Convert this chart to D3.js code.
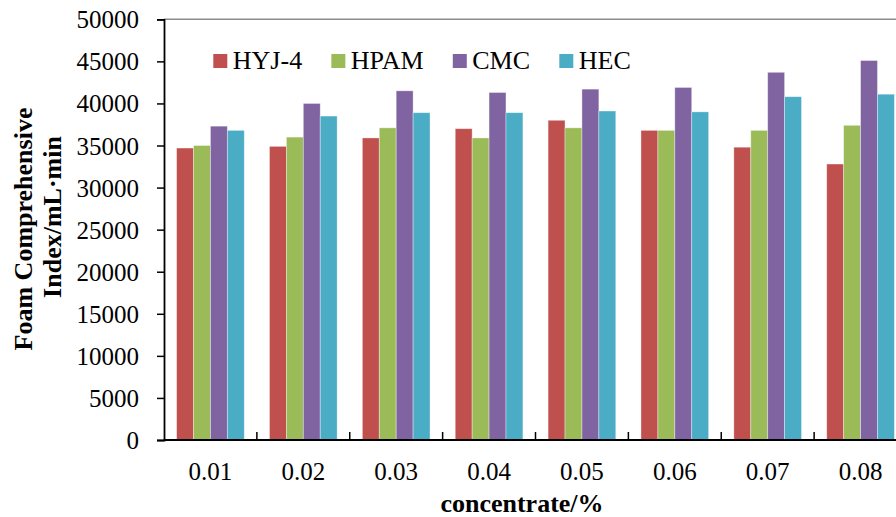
<!DOCTYPE html>
<html><head><meta charset="utf-8">
<script src="https://cdn.jsdelivr.net/npm/d3@7/dist/d3.min.js"></script>
<style>body{margin:0;background:#fff;}svg{display:block;}</style>
</head><body>
<svg id="c" width="896" height="517"></svg>
<script>
const categories = ["0.01","0.02","0.03","0.04","0.05","0.06","0.07","0.08"];
const seriesNames = ["HYJ-4","HPAM","CMC","HEC"];
const hyj4 = [34700,34900,35900,37000,38000,36800,34800,32800];
const hpam = [35000,36000,37100,35900,37100,36800,36800,37400];
const cmc  = [37300,40000,41500,41300,41700,41900,43700,45100];
const hec  = [36800,38500,38900,38900,39100,39000,40800,41100];
const yTicks = [0,5000,10000,15000,20000,25000,30000,35000,40000,45000,50000];
const colors = ["#C0504D","#9BBB59","#8064A2","#4BACC6"];
const values = [hyj4,hpam,cmc,hec];

const svg = d3.select("#c");
const L=164, R=907, T=19.3, B=440;
const font = "'Liberation Serif','Times New Roman',serif";

const x = d3.scaleBand().domain(categories).range([L,R]);
const xs = d3.scaleBand().domain(seriesNames).range([12.6, x.bandwidth()-12.6]);
const y = d3.scaleLinear().domain([0,50000]).range([B,T]);

// top border
svg.append("line").attr("x1",L).attr("x2",896).attr("y1",T).attr("y2",T)
  .attr("stroke","#8c8c8c").attr("stroke-width",1.5);

// bars
const g = svg.append("g");
seriesNames.forEach((s,i)=>{
  g.selectAll(null).data(categories).enter().append("rect")
    .attr("x",c=>x(c)+xs(s))
    .attr("width",xs.bandwidth())
    .attr("y",(c,j)=>y(values[i][j]))
    .attr("height",(c,j)=>B-y(values[i][j]))
    .attr("fill",colors[i])
    .attr("stroke","rgba(255,255,255,0.45)")
    .attr("stroke-width",0.8);
});

// y axis
const ya = svg.append("g").attr("transform",`translate(${L},0)`)
  .call(d3.axisLeft(y).tickValues(yTicks).tickSize(7).tickPadding(18).tickFormat(d3.format("d")));
ya.select(".domain").attr("stroke","#000").attr("stroke-width",1.8);
ya.selectAll(".tick line").attr("stroke","#000").attr("stroke-width",1.5);
ya.selectAll("text").attr("font-family",font).attr("font-size",25).attr("fill","#000").attr("dy","0.34em");

// x axis
const xa = svg.append("g").attr("transform",`translate(0,${B})`);
xa.append("line").attr("x1",L).attr("x2",R).attr("y1",0).attr("y2",0).attr("stroke","#000").attr("stroke-width",2.2);
xa.selectAll(".xt").data(categories.slice(1)).enter().append("line")
  .attr("x1",c=>x(c)).attr("x2",c=>x(c)).attr("y1",0).attr("y2",-8)
  .attr("stroke","#000").attr("stroke-width",1.5);
xa.selectAll(".xl").data(categories).enter().append("text")
  .attr("x",c=>x(c)+x.bandwidth()/2).attr("y",40)
  .attr("text-anchor","middle").attr("font-family",font).attr("font-size",25).text(c=>c);

// axis titles
svg.append("text").attr("x",522).attr("y",512).attr("text-anchor","middle")
  .attr("font-family",font).attr("font-size",26).attr("font-weight","bold").text("concentrate/%");
svg.append("text").attr("transform","translate(32,229) rotate(-90)").attr("text-anchor","middle")
  .attr("font-family",font).attr("font-size",26).attr("font-weight","bold").text("Foam Comprehensive");
svg.append("text").attr("transform","translate(61,217) rotate(-90)").attr("text-anchor","middle")
  .attr("font-family",font).attr("font-size",26).attr("font-weight","bold").text("Index/mL·min");

// legend
const lg = svg.append("g");
let lx = 213.3;
seriesNames.forEach((s,i)=>{
  lg.append("rect").attr("x",lx).attr("y",54).attr("width",14).attr("height",14).attr("fill",colors[i]);
  const t = lg.append("text").attr("x",lx+19.5).attr("y",68.5).attr("font-family",font).attr("font-size",26).text(s);
  lx += 19.5 + t.node().getComputedTextLength() + 29.2;
});
</script>
</body></html>
